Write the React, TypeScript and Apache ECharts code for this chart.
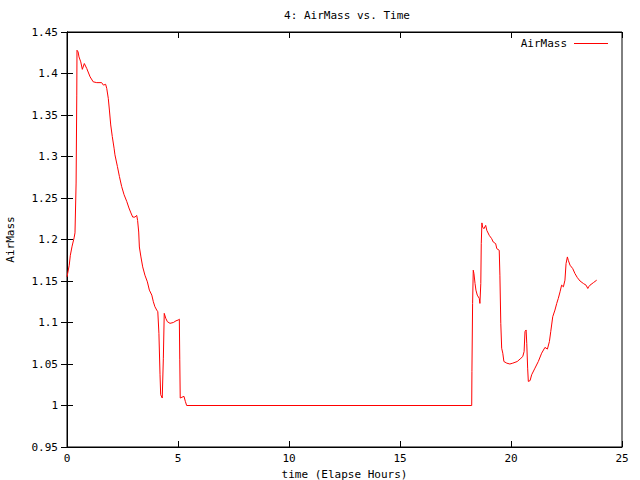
import React, { useEffect, useRef } from "react";
import * as echarts from "echarts";

const times: number[] = [
  0, 0.1, 0.15, 0.23, 0.32, 0.36, 0.41, 0.44, 0.45,
  0.5, 0.54, 0.62, 0.69, 0.78, 0.89, 1.04, 1.18, 1.34, 1.56, 1.64, 1.74, 1.79, 1.86, 1.91, 1.97, 2.04, 2.12,
  2.16, 2.27, 2.36, 2.46, 2.57, 2.69, 2.79, 2.88, 2.96, 3.06, 3.14, 3.18, 3.23, 3.26, 3.33, 3.41, 3.51, 3.62, 3.71,
  3.74, 3.82, 3.89, 3.96, 4.04, 4.09, 4.14, 4.19, 4.22, 4.29, 4.34, 4.38, 4.45, 4.52, 4.64, 4.79, 4.91, 5.01, 5.06,
  5.08, 5.1, 5.18, 5.27, 5.33, 5.39,
  18.23, 18.24, 18.27, 18.3, 18.33, 18.38, 18.42, 18.48, 18.57, 18.6, 18.64, 18.66, 18.69, 18.72, 18.78, 18.86,
  18.91, 19.02, 19.13, 19.2, 19.31, 19.36, 19.47, 19.5, 19.54, 19.58, 19.63, 19.68, 19.81, 19.95, 20.08, 20.18,
  20.28, 20.41, 20.53, 20.59, 20.63, 20.68, 20.71, 20.75, 20.78, 20.86, 20.93, 21.08, 21.23, 21.38, 21.53, 21.64,
  21.73, 21.79, 21.83, 21.88, 21.98, 22.06, 22.13, 22.21, 22.28, 22.36, 22.43, 22.48, 22.54, 22.58, 22.66, 22.78,
  22.88, 22.99, 23.11, 23.26, 23.38, 23.46, 23.5, 23.56, 23.71, 23.86,
];

const airMass: number[] = [
  1.155, 1.169, 1.181, 1.192, 1.202, 1.208, 1.268, 1.374, 1.428,
  1.426, 1.42, 1.414, 1.405, 1.412, 1.406, 1.396, 1.39, 1.389, 1.389, 1.386, 1.387, 1.382, 1.37, 1.356, 1.338, 1.324, 1.31,
  1.302, 1.288, 1.276, 1.264, 1.254, 1.246, 1.238, 1.232, 1.227, 1.227, 1.229, 1.223, 1.209, 1.191, 1.179, 1.167, 1.157, 1.149, 1.139,
  1.139, 1.133, 1.125, 1.119, 1.115, 1.113, 1.087, 1.037, 1.013, 1.009, 1.057, 1.111, 1.105, 1.101, 1.099, 1.1, 1.102, 1.103, 1.104,
  1.055, 1.009, 1.01, 1.011, 1.005, 1.0,
  1.0, 1.041, 1.123, 1.163, 1.159, 1.147, 1.139, 1.133, 1.129, 1.123, 1.147, 1.195, 1.22, 1.215, 1.213, 1.217,
  1.211, 1.205, 1.201, 1.197, 1.195, 1.189, 1.187, 1.157, 1.099, 1.069, 1.063, 1.053, 1.051, 1.05, 1.051, 1.052,
  1.053, 1.056, 1.059, 1.065, 1.089, 1.091, 1.075, 1.045, 1.029, 1.03, 1.037, 1.045, 1.053, 1.063, 1.07, 1.068,
  1.077, 1.089, 1.097, 1.107, 1.115, 1.123, 1.129, 1.137, 1.145, 1.143, 1.151, 1.171, 1.179, 1.175, 1.169, 1.165,
  1.159, 1.154, 1.15, 1.147, 1.145, 1.141, 1.143, 1.145, 1.148, 1.151,
];

const FONT = "DejaVu Sans Mono";

export default function App() {
  const ref = useRef<HTMLDivElement>(null);
  useEffect(() => {
    if (!ref.current) return;
    const chart = echarts.init(ref.current, undefined, { renderer: "svg" });
    const data = times.map((t, i) => [t, airMass[i]]);
    const tickCommon = { show: true, inside: true, length: 6, lineStyle: { color: "#000", width: 1 } };
    chart.setOption({
      animation: false,
      backgroundColor: "#fff",
      textStyle: { fontFamily: FONT, color: "#000" },
      title: {
        text: "4: AirMass vs. Time",
        left: 342,
        top: 5,
        textAlign: "center",
        textStyle: { fontFamily: FONT, fontSize: 11, fontWeight: "normal", color: "#000" },
      },
      legend: {
        right: 27,
        top: 33,
        align: "right",
        icon: "rect",
        itemWidth: 34,
        itemHeight: 1,
        itemGap: 6,
        textStyle: { fontFamily: FONT, fontSize: 11, color: "#000", padding: [0, 2, 0, 0] },
        data: ["AirMass"],
      },
      grid: {
        left: 67,
        right: 18,
        top: 32,
        bottom: 33,
        show: true,
        borderColor: "#000",
        borderWidth: 1,
        backgroundColor: "transparent",
        containLabel: false,
        outerBoundsMode: "none",
      },
      xAxis: [
        {
          type: "value",
          min: 0,
          max: 25,
          interval: 5,
          name: "time (Elapse Hours)",
          nameLocation: "middle",
          nameGap: 22,
          nameTextStyle: { fontFamily: FONT, fontSize: 11, color: "#000" },
          axisLine: { show: true, lineStyle: { color: "#000" } },
          axisTick: tickCommon,
          axisLabel: { fontFamily: FONT, fontSize: 11, color: "#000", margin: 6 },
          splitLine: { show: false },
        },
        {
          type: "value",
          position: "top",
          min: 0,
          max: 25,
          interval: 5,
          axisLine: { show: true, lineStyle: { color: "#000" } },
          axisTick: tickCommon,
          axisLabel: { show: false },
          splitLine: { show: false },
        },
      ],
      yAxis: [
        {
          type: "value",
          min: 0.95,
          max: 1.45,
          interval: 0.05,
          name: "AirMass",
          nameLocation: "middle",
          nameGap: 51,
          nameRotate: 90,
          nameTextStyle: { fontFamily: FONT, fontSize: 11, color: "#000" },
          axisLine: { show: true, lineStyle: { color: "#000" } },
          axisTick: tickCommon,
          axisLabel: {
            fontFamily: FONT,
            fontSize: 11,
            color: "#000",
            margin: 9,
            formatter: (v: number) => String(+v.toFixed(2)),
          },
          splitLine: { show: false },
        },
        {
          type: "value",
          position: "right",
          min: 0.95,
          max: 1.45,
          interval: 0.05,
          axisLine: { show: true, lineStyle: { color: "#000" } },
          axisTick: tickCommon,
          axisLabel: { show: false },
          splitLine: { show: false },
        },
      ],
      series: [
        {
          name: "AirMass",
          type: "line",
          xAxisIndex: 0,
          yAxisIndex: 0,
          data,
          showSymbol: false,
          symbol: "none",
          lineStyle: { color: "#ff0000", width: 1 },
          itemStyle: { color: "#ff0000" },
        },
      ],
    });
    return () => chart.dispose();
  }, []);
  return <div ref={ref} style={{ width: 640, height: 480, position: "absolute", left: 0, top: 0 }} />;
}
